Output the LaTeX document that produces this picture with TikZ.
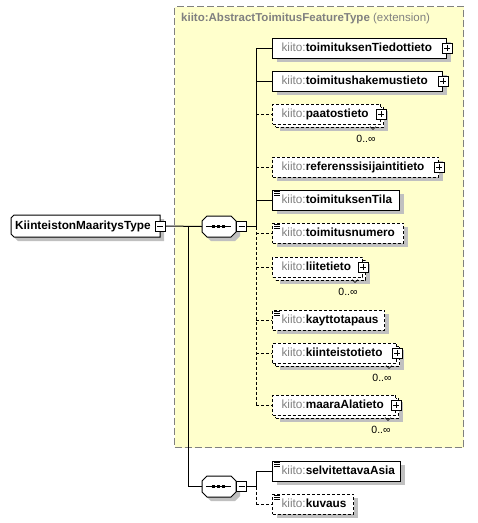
\documentclass[tikz,border=0pt]{standalone}
\usepackage{fontspec}
\setmainfont{Liberation Sans}
\usetikzlibrary{shadows}
\definecolor{extfill}{HTML}{FFFFCC}
\definecolor{extline}{HTML}{808080}
\definecolor{kgray}{HTML}{808080}
\definecolor{shade}{HTML}{C0C0C0}
\newcommand\kt{\textcolor{kgray}{kiito:}}
\tikzset{
  lbl/.style={font=\fontsize{11.8}{13}\selectfont},
  shad/.style={drop shadow={shadow xshift=4pt, shadow yshift=-4pt, fill=shade, opacity=1}},
  elbase/.style={draw=black, line width=1pt, fill=white, rectangle, anchor=west,
    minimum height=20pt, inner xsep=9pt, inner ysep=0pt, align=left, lbl,
    text height=8.5pt, text depth=2.5pt},
  elem/.style={elbase, shad},
  optelem/.style={elbase, shad, dash pattern=on 3pt off 2pt},
  optfront/.style={elbase, dash pattern=on 3pt off 2pt},
  backbox/.style={draw=black, line width=1pt, fill=white, rectangle, anchor=west,
    minimum height=20pt, inner sep=0pt, dash pattern=on 3pt off 2pt, shad},
  multlbl/.style={font=\fontsize{10.5}{12}\selectfont, inner sep=0pt},
  plusbox/.style={draw=black, line width=0.8pt, fill=white, rectangle, minimum size=10pt, inner sep=0pt,
    path picture={\draw[line width=0.8pt]
      ([xshift=2pt]path picture bounding box.west) -- ([xshift=-2pt]path picture bounding box.east)
      ([yshift=-2pt]path picture bounding box.north) -- ([yshift=2pt]path picture bounding box.south);}},
  minusbox/.style={draw=black, line width=0.8pt, fill=white, rectangle, minimum size=10pt, inner sep=0pt,
    path picture={\draw[line width=0.8pt]
      ([xshift=2pt]path picture bounding box.west) -- ([xshift=-2pt]path picture bounding box.east);}},
  outline/.style={draw=black, line width=1pt, fill=white},
  shadowfill/.style={fill=shade},
  seqnode/.style={rectangle, minimum width=34pt, minimum height=21pt, inner sep=0pt},
  rootnode/.style={rectangle, minimum width=149pt, minimum height=22pt, inner xsep=4pt, inner ysep=0pt,
    anchor=west, font=\fontsize{11.8}{13}\selectfont\bfseries, text width=141pt, align=left,
    text height=8.5pt, text depth=2.5pt},
  extbox/.style={draw=extline, fill=extfill, line width=1pt, dash pattern=on 7pt off 3pt,
    rectangle, anchor=north west, inner sep=0pt},
  conn/.style={line width=1pt, draw=black},
  optconn/.style={conn, dash pattern=on 3pt off 2pt},
  docicon/.style={line width=0.6pt, draw=black},
  vmark/.style={line width=0.6pt, draw=black}
}
\newcommand\elnode[5]{%
  \pgfmathsetmacro\tw{#4-18}%
  \node[#1, minimum width=#4pt, text width=\tw pt] (#2) at (272,#3) {\kt\textbf{#5}};}
\newcommand\multnode[4]{%
  \node[backbox, minimum width=#3pt] (#1b) at (275,#2+3) {};
  \elnode{optfront}{#1}{#2}{#3}{#4}
  \draw[vmark] ([shift={(-14,-1)}]#1b.south east) -- ++(3,3) -- ++(3,-3);
  \node[multlbl] (#1m) at ([shift={(-15,14)}]#1.south east) {0..∞};
  \node[plusbox] (#1p) at (#1.east) {};}
\newcommand\docicon[1]{%
  \draw[docicon] ([shift={(2,2)}]#1.north west) -- ++(6,0)
    ([shift={(2,4)}]#1.north west) -- ++(6,0)
    ([shift={(2,6)}]#1.north west) -- ++(6,0);}
% sequence outline: #1 = centre y
\newcommand\seqshape[1]{%
  \begin{scope}[shift={(4,4)}]
    \fill[shadowfill] (207,#1-10.5) -- (231,#1-10.5) -- (236,#1-5.5) -- (236,#1+5.5) -- (231,#1+10.5)
      -- (207,#1+10.5) -- (202,#1+5.5) -- (202,#1-5.5) -- cycle;
  \end{scope}
  \path[outline] (207,#1-10.5) -- (231,#1-10.5) -- (236,#1-5.5) -- (236,#1+5.5) -- (231,#1+10.5)
      -- (207,#1+10.5) -- (202,#1+5.5) -- (202,#1-5.5) -- cycle;}
\begin{document}
\begin{tikzpicture}[x=1pt,y=-1pt]
\useasboundingbox (0,0) rectangle (478,523);
% extension box
\node[extbox, minimum width=289pt, minimum height=441pt] (ext) at (174,6) {};
\node[anchor=west, lbl, font=\fontsize{11.5}{13}\selectfont, text=kgray, inner sep=0pt] (extt) at (181,19)
  {\textbf{kiito:AbstractToimitusFeatureType} (extension)};
% elements in the extension
\elnode{elem}{e1}{48}{174}{toimituksenTiedottieto}
\node[plusbox] (e1p) at (e1.east) {};
\elnode{elem}{e2}{81}{170}{toimitushakemustieto}
\node[plusbox] (e2p) at (e2.east) {};
\multnode{e3}{114}{108}{paatostieto}
\elnode{optelem}{e4}{167}{166}{referenssisijaintitieto}
\node[plusbox] (e4p) at (e4.east) {};
\elnode{elem}{e5}{200}{127}{toimituksenTila}
\docicon{e5}
\elnode{optelem}{e6}{233}{131}{toimitusnumero}
\docicon{e6}
\multnode{e7}{267}{90}{liitetieto}
\elnode{optelem}{e8}{320}{112}{kayttotapaus}
\docicon{e8}
\multnode{e9}{353}{124}{kiinteistotieto}
\multnode{e10}{405}{123}{maaraAlatieto}
% root (outline drawn directly)
\fill[shadowfill] (18,219) -- (164,219) -- (164,241) -- (18,241) -- (15,238) -- (15,222) -- cycle;
\path[outline] (14,215) -- (160,215) -- (160,237) -- (14,237) -- (11,234) -- (11,218) -- cycle;
\node[rootnode] (root) at (11,226) {KiinteistonMaaritysType};
\node[minusbox] (rootm) at (root.east) {};
% sequences
\seqshape{226.5}
\node[seqnode] (seq1) at (219,226.5) {};
\node[minusbox, anchor=west] (seq1m) at (seq1.east) {};
\seqshape{486.5}
\node[seqnode] (seq2) at (219,486.5) {};
\node[minusbox, anchor=west] (seq2m) at (seq2.east) {};
\foreach \s in {seq1,seq2}{
  \draw[line width=1.2pt] ([xshift=4pt]\s.west) -- ([xshift=-5pt]\s.east);
  \foreach \dx in {-6,-1,4}{
    \fill ([shift={(\dx-1.5,-1.2)}]\s.center) rectangle ++(3,2.4);}
}
% second group
\elnode{elem}{e11}{471}{128}{selvitettavaAsia}
\docicon{e11}
\elnode{optelem}{e12}{504}{81}{kuvaus}
\docicon{e12}
% connectors
\coordinate (tx) at (256,0);
\coordinate (bx) at (188,0);
\draw[conn] (rootm.east) -- (seq1.west);
\draw[conn] (rootm.east -| bx) |- (seq2.west);
\draw[conn] (seq1m.east) -- (seq1m.east -| tx);
\draw[conn] (e1.west -| tx) -- (seq1m.east -| tx);
\draw[optconn] (seq1m.east -| tx) -- (e10.west -| tx);
\foreach \e in {e1,e2,e5}{\draw[conn] (\e.west -| tx) -- (\e.west);}
\foreach \e in {e3,e4,e6,e7,e8,e9,e10}{\draw[optconn] (\e.west -| tx) -- (\e.west);}
\draw[conn] (seq2m.east) -- (seq2m.east -| tx);
\draw[conn] (e11.west -| tx) -- (seq2m.east -| tx);
\draw[optconn] (seq2m.east -| tx) -- (e12.west -| tx);
\draw[conn] (e11.west -| tx) -- (e11.west);
\draw[optconn] (e12.west -| tx) -- (e12.west);
\end{tikzpicture}
\end{document}
